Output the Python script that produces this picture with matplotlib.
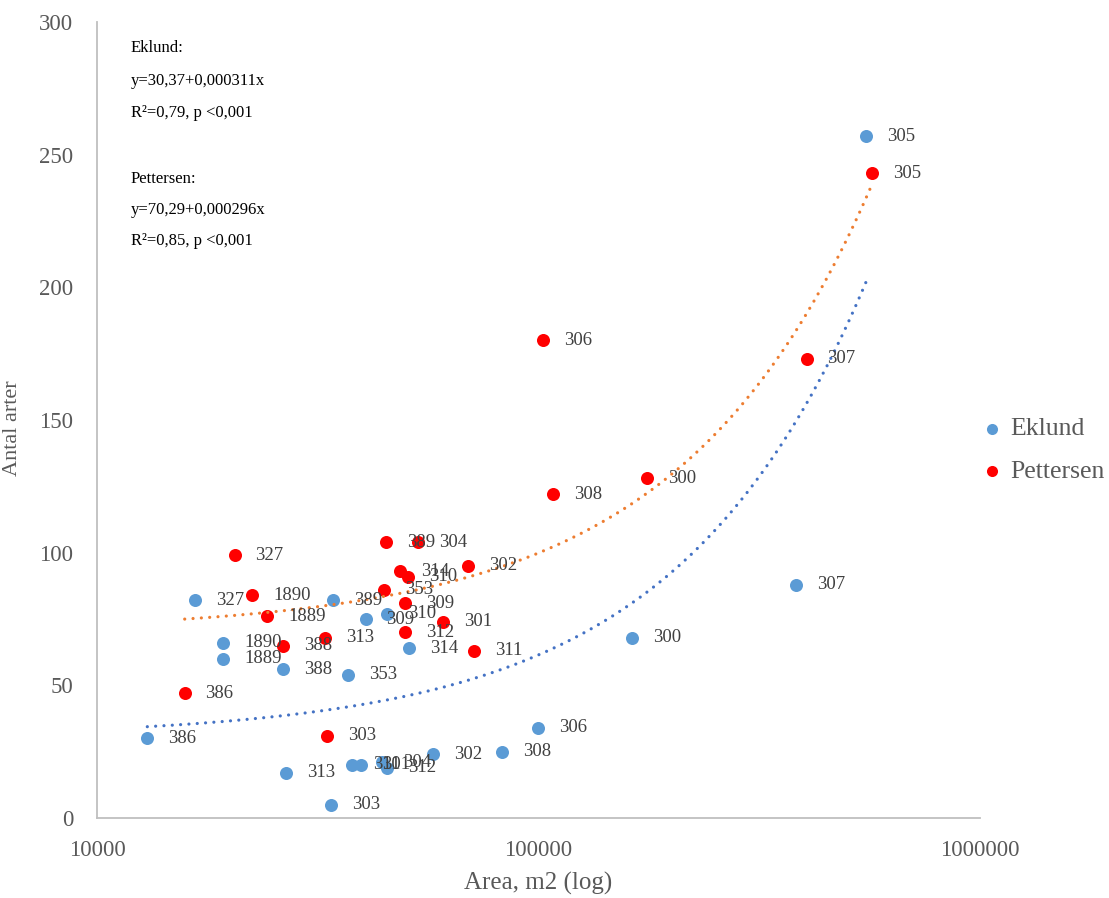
import numpy as np
import matplotlib.pyplot as plt
from matplotlib.ticker import FixedLocator, FixedFormatter

plt.rcParams['font.family'] = ['Liberation Serif', 'DejaVu Serif']

# Eklund survey: area (m2), number of species, site id
eklund_lbl = ['305', '307', '300', '306', '308', '302', '311', '301', '304', '312', '303',
              '313', '386', '327', '1890', '1889', '388', '353', '389', '309', '310', '314']
eklund_x = [552000, 383000, 163000, 100000, 82600, 57700, 37900, 39600, 44200, 45400, 33900,
            26800, 13000, 16700, 19300, 19300, 26400, 37000, 34200, 40600, 45400, 50900]
eklund_y = [257, 88, 68, 34, 25, 24, 20, 20, 21, 19, 5,
            17, 30, 82, 66, 60, 56, 54, 82, 75, 77, 64]

# Pettersen survey
pettersen_lbl = ['305', '307', '306', '300', '308', '302', '327', '1890', '1889', '388', '386',
                 '389', '304', '314', '310', '353', '309', '312', '301', '311', '313', '303']
pettersen_x = [569000, 405000, 102300, 176000, 107900, 69200, 20500, 22500, 24300, 26400, 15800,
               45100, 53300, 48500, 50600, 44700, 49800, 49800, 60800, 71400, 32800, 33200]
pettersen_y = [243, 173, 180, 128, 122, 95, 99, 84, 76, 65, 47,
               104, 104, 93, 91, 86, 81, 70, 74, 63, 68, 31]

# linear regressions y = a + b*x
eklund_fit = (30.37, 0.000311)
pettersen_fit = (70.29, 0.000296)

x_ticks = [10000, 100000, 1000000]
y_ticks = [0, 50, 100, 150, 200, 250, 300]

grey = '#595959'
blue = '#5B9BD5'
red = '#FF0000'

W, H = 1109, 898
fig = plt.figure(figsize=(W / 100, H / 100), dpi=100)
ax = fig.add_axes([97 / W, 1 - 818 / H, (980 - 97) / W, (818 - 22) / H])

ax.scatter(eklund_x, eklund_y, s=88, color=blue, linewidths=0, zorder=3, label='Eklund')
ax.scatter(pettersen_x, pettersen_y, s=88, color=red, linewidths=0, zorder=3, label='Pettersen')

for (a, b), xs, col in [(eklund_fit, eklund_x, '#4472C4'), (pettersen_fit, pettersen_x, '#ED7D31')]:
    xx = np.logspace(np.log10(min(xs)), np.log10(max(xs)), 400)
    ax.plot(xx, a + b * xx, color=col, lw=2.3, linestyle=(0, (0.01, 2.6)),
            dash_capstyle='round', zorder=4)

for xs, ys, lbls in [(eklund_x, eklund_y, eklund_lbl), (pettersen_x, pettersen_y, pettersen_lbl)]:
    for x, y, t in zip(xs, ys, lbls):
        ax.annotate(t, (x, y), xytext=(15, 0), textcoords='offset points',
                    ha='left', va='center', fontsize=13.5, color='#404040', zorder=5)

ax.set_xscale('log')
ax.set_xlim(10000, 1000000)
ax.set_ylim(0, 300)
ax.xaxis.set_major_locator(FixedLocator(x_ticks))
ax.xaxis.set_major_formatter(FixedFormatter([str(v) for v in x_ticks]))
ax.xaxis.set_minor_locator(FixedLocator([]))
ax.set_yticks(y_ticks)
ax.tick_params(length=0, labelsize=16.5, labelcolor=grey)
ax.tick_params(axis='x', pad=16)
ax.tick_params(axis='y', pad=17)

for s in ['top', 'right']:
    ax.spines[s].set_visible(False)
for s in ['left', 'bottom']:
    ax.spines[s].set_color('#BFBFBF')
    ax.spines[s].set_linewidth(1.3)

ax.set_xlabel('Area, m2 (log)', fontsize=18, color=grey, labelpad=8)
ax.set_ylabel('Antal arter', fontsize=16, color=grey)
ax.yaxis.set_label_coords((22 - 97) / (980 - 97), 0.49)

eq_lines = [('Eklund:', 48), ('y=30,37+0,000311x', 81), ('R²=0,79, p <0,001', 113),
            ('Pettersen:', 179), ('y=70,29+0,000296x', 210), ('R²=0,85, p <0,001', 241)]
for t, py in eq_lines:
    fig.text(131 / W, 1 - py / H, t, fontsize=12, color='black', ha='left', va='center')

fig.legend(loc='center left', bbox_to_anchor=(969 / W, 1 - 450 / H), frameon=False,
           fontsize=18.5, labelcolor=grey, markerscale=0.85, handlelength=1.0,
           handletextpad=0.2, labelspacing=0.75, borderaxespad=0)

fig.savefig('out.png', dpi=100)
